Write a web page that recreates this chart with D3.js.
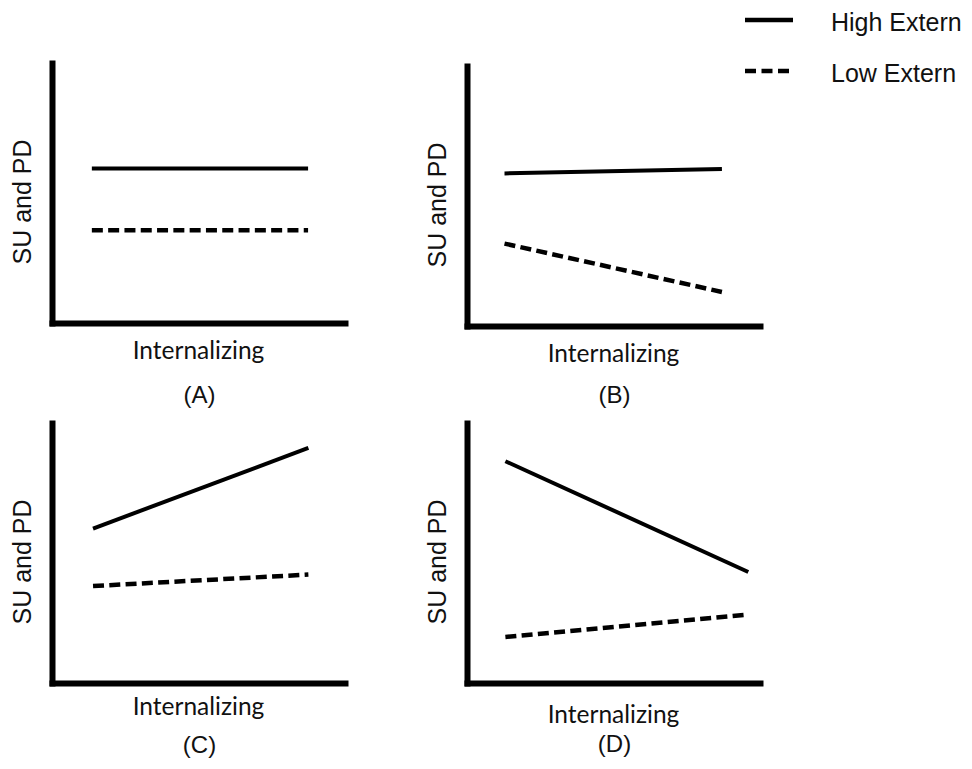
<!DOCTYPE html>
<html>
<head>
<meta charset="utf-8">
<script src="https://cdn.jsdelivr.net/npm/d3@7"></script>
<style>
  body { margin: 0; background: #fff; }
  svg { display: block; }
</style>
</head>
<body>
<svg id="chart" width="972" height="769"></svg>
<script>
const panels = ['(A)', '(B)', '(C)', '(D)'];
const series = ['High Extern', 'Low Extern'];
const xStart = [1.36, 1.28, 1.40, 1.31];
const xEnd = [8.74, 8.70, 8.75, 9.60];
const highExtern = [[5.94, 5.94], [5.87, 6.04], [5.94, 9.04], [8.53, 4.27]];
const lowExtern = [[3.57, 3.57], [3.17, 1.31], [3.73, 4.17], [1.77, 2.63]];
const xLabel = 'Internalizing';
const yLabel = 'SU and PD';

// where each panel's axis corner sits, plus label offsets
const layout = [
    { x: 52, y: 323, xl: 36, pl: 80 },
    { x: 467, y: 326, xl: 36, pl: 77 },
    { x: 52, y: 683, xl: 32, pl: 70 },
    { x: 467, y: 683, xl: 40, pl: 69 }
];
const w = 293, h = 260;

const svg = d3.select('#chart');
const x = d3.scaleLinear().domain([0, 10]).range([0, w]);
const y = d3.scaleLinear().domain([0, 10]).range([h, 0]);
const line = d3.line().x(d => x(d[0])).y(d => y(d[1]));

panels.forEach((name, i) => {
    const L = layout[i];
    const g = svg.append('g').attr('transform', `translate(${L.x},${L.y - h})`);

    // thick plain axes, no ticks
    g.append('g')
        .call(d3.axisLeft(y).ticks(0).tickSizeOuter(0))
        .call(a => a.select('.domain').attr('stroke-width', 6).attr('stroke-linecap', 'square'));
    g.append('g')
        .attr('transform', `translate(0,${h})`)
        .call(d3.axisBottom(x).ticks(0).tickSizeOuter(0))
        .call(a => a.select('.domain').attr('stroke-width', 6).attr('stroke-linecap', 'square'));

    const hi = [[xStart[i], highExtern[i][0]], [xEnd[i], highExtern[i][1]]];
    const lo = [[xStart[i], lowExtern[i][0]], [xEnd[i], lowExtern[i][1]]];

    g.append('path').attr('d', line(hi))
        .attr('fill', 'none').attr('stroke', '#000').attr('stroke-width', 4);
    g.append('path').attr('d', line(lo))
        .attr('fill', 'none').attr('stroke', '#000').attr('stroke-width', 4.5)
        .attr('stroke-dasharray', '11,5.3');

    g.append('text')
        .attr('x', w / 2).attr('y', h + L.xl)
        .attr('text-anchor', 'middle')
        .attr('font-family', 'Lato, "Open Sans", sans-serif')
        .attr('font-size', 24.5).attr('fill', '#111')
        .text(xLabel);

    g.append('text')
        .attr('transform', `translate(-21,${h / 2 + 9}) rotate(-90)`)
        .attr('text-anchor', 'middle')
        .attr('font-family', '"Liberation Sans", Arial, sans-serif')
        .attr('font-size', 25).attr('fill', '#111')
        .text(yLabel);

    g.append('text')
        .attr('x', w / 2 + 1).attr('y', h + L.pl)
        .attr('text-anchor', 'middle')
        .attr('font-family', '"Liberation Sans", Arial, sans-serif')
        .attr('font-size', 24).attr('fill', '#111')
        .text(name);
});

// legend, top right
const legend = svg.append('g').attr('transform', 'translate(745,0)');
const legendY = [20, 71];
series.forEach((s, i) => {
    const row = legend.append('g').attr('transform', `translate(0,${legendY[i]})`);
    row.append('line')
        .attr('x1', 0).attr('x2', 48)
        .attr('stroke', '#000').attr('stroke-width', 4.5)
        .attr('stroke-dasharray', i === 0 ? null : '11,5.5');
    row.append('text')
        .attr('x', 86).attr('y', 11)
        .attr('font-family', '"Liberation Sans", Arial, sans-serif')
        .attr('font-size', 25).attr('fill', '#111')
        .text(s);
});
</script>
</body>
</html>
